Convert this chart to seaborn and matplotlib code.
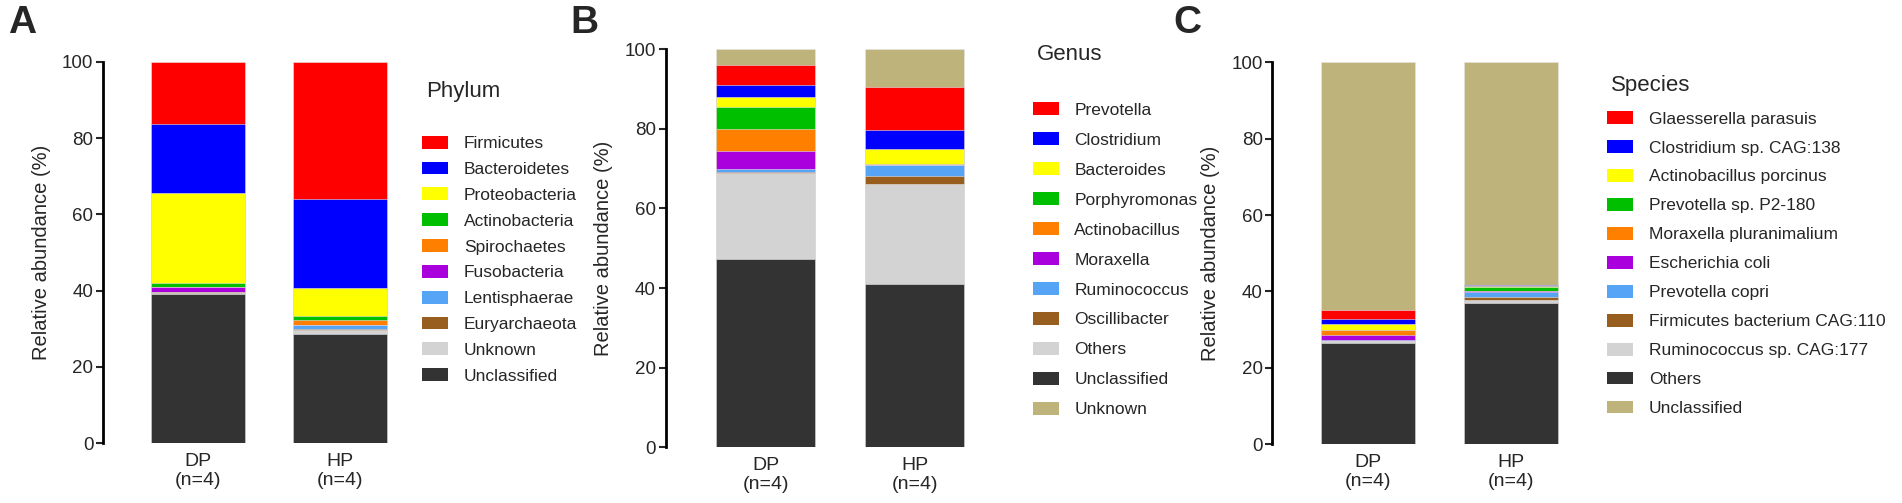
import numpy as np
import seaborn as sns
import matplotlib.pyplot as plt
from matplotlib.patches import Patch

groups = ['DP\n(n=4)', 'HP\n(n=4)']

# legend order (top of stack first)
phylum = ['Firmicutes', 'Bacteroidetes', 'Proteobacteria', 'Actinobacteria', 'Spirochaetes',
          'Fusobacteria', 'Lentisphaerae', 'Euryarchaeota', 'Unknown', 'Unclassified']
phylum_dp = [16.2, 18.3, 23.4, 1.1, 0.1, 1.2, 0.1, 0.1, 0.5, 39.0]
phylum_hp = [35.9, 23.3, 7.5, 0.9, 1.3, 0.1, 1.0, 0.3, 1.0, 28.7]

genus = ['Prevotella', 'Clostridium', 'Bacteroides', 'Porphyromonas', 'Actinobacillus',
         'Moraxella', 'Ruminococcus', 'Oscillibacter', 'Others', 'Unclassified', 'Unknown']
genus_dp = [5.1, 2.9, 2.7, 5.5, 5.5, 4.5, 0.7, 0.4, 21.6, 47.2, 3.9]
genus_hp = [10.9, 4.6, 3.8, 0.1, 0.1, 0.1, 2.7, 2.1, 25.2, 40.9, 9.5]
genus_stack = ['Unknown', 'Prevotella', 'Clostridium', 'Bacteroides', 'Porphyromonas',
               'Actinobacillus', 'Moraxella', 'Ruminococcus', 'Oscillibacter', 'Others',
               'Unclassified']

species = ['Glaesserella parasuis', 'Clostridium sp. CAG:138', 'Actinobacillus porcinus',
           'Prevotella sp. P2-180', 'Moraxella pluranimalium', 'Escherichia coli',
           'Prevotella copri', 'Firmicutes bacterium CAG:110', 'Ruminococcus sp. CAG:177',
           'Others', 'Unclassified']
species_dp = [2.2, 1.3, 1.7, 0.1, 1.3, 1.3, 0.1, 0.1, 0.4, 26.6, 64.9]
species_hp = [0.1, 0.3, 0.1, 1.1, 0.1, 0.1, 1.3, 0.9, 0.8, 36.9, 58.3]
species_stack = ['Unclassified'] + species[:-1]

colors_a = ['#FF0000', '#0000FF', '#FFFF00', '#00BF00', '#FF7F00', '#AA00DD',
            '#55A4F5', '#985E20', '#D3D3D3', '#333333']
colors_b = ['#FF0000', '#0000FF', '#FFFF00', '#00BF00', '#FF7F00', '#AA00DD',
            '#55A4F5', '#985E20', '#D3D3D3', '#333333', '#BFB37C']
colors_c = colors_b

sns.set_style('white')
plt.rcParams['font.family'] = ['Liberation Sans', 'DejaVu Sans']

fig = plt.figure(figsize=(19.02, 5.03), dpi=100)


def stacked(ax, names, dp, hp, cols, stack_order, title, leg_x, title_y, leg_y, spacing):
    col = dict(zip(names, cols))
    vals = {n: (a, b) for n, a, b in zip(names, dp, hp)}
    # stack_order is top to bottom; draw cumulative totals, tallest first
    order = stack_order[::-1]
    for i in range(len(order) - 1, -1, -1):
        top = np.sum([vals[n] for n in order[:i + 1]], axis=0)
        sns.barplot(x=groups, y=top, color=col[order[i]], saturation=1, width=0.66,
                    linewidth=0.4, edgecolor='#e6e6e6', ax=ax)
    ax.set_xlim(-0.67, 1.5)
    ax.set_ylim(0, 100)
    ax.set_yticks([0, 20, 40, 60, 80, 100])
    ax.set_ylabel('Relative abundance (%)', fontsize=14.5, labelpad=8)
    ax.tick_params(axis='y', length=5, width=1.5, labelsize=13.5, pad=2, left=True)
    ax.tick_params(axis='x', length=0, labelsize=14, pad=7)
    for s in ['top', 'right', 'bottom']:
        ax.spines[s].set_visible(False)
    ax.spines['left'].set_linewidth(2)
    ax.spines['left'].set_color('black')
    handles = [Patch(facecolor=col[n], edgecolor='none') for n in names]
    fig.legend(handles, names, loc='upper left', bbox_to_anchor=(leg_x, leg_y),
               frameon=False, fontsize=12.5, labelspacing=spacing,
               handlelength=1.5, handleheight=0.75, handletextpad=0.9,
               borderpad=0, borderaxespad=0)
    fig.text(leg_x + 0.002, title_y, title, fontsize=16, va='center', ha='left')


ax_a = fig.add_axes([0.0542, 0.119, 0.162, 0.758])
stacked(ax_a, phylum, phylum_dp, phylum_hp, colors_a, phylum, 'Phylum',
        0.222, 0.819, 0.730, 0.6)

ax_b = fig.add_axes([0.350, 0.111, 0.170, 0.791])
stacked(ax_b, genus, genus_dp, genus_hp, colors_b, genus_stack, 'Genus',
        0.543, 0.891, 0.797, 0.84)

ax_c = fig.add_axes([0.669, 0.117, 0.163, 0.759])
stacked(ax_c, species, species_dp, species_hp, colors_c, species_stack, 'Species',
        0.845, 0.831, 0.779, 0.78)

for lbl, x in [('A', 0.004), ('B', 0.300), ('C', 0.617)]:
    fig.text(x, 0.99, lbl, fontsize=28, fontweight='bold', va='top', ha='left')

fig.savefig('out.png', dpi=100)
